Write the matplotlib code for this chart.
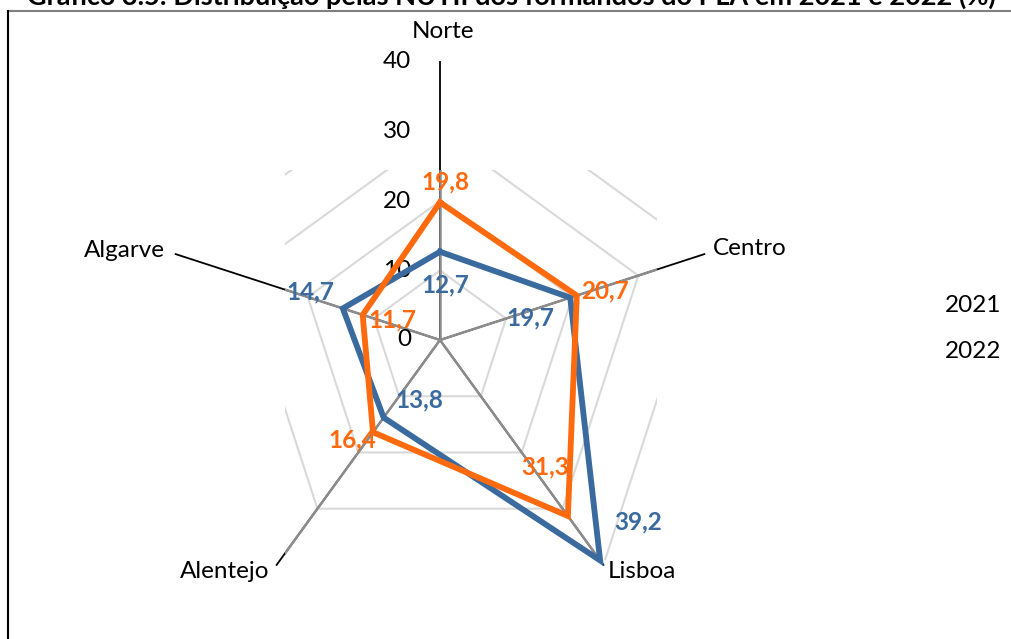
import numpy as np
import matplotlib
matplotlib.use("Agg")
import matplotlib.pyplot as plt
from matplotlib.transforms import Bbox
from matplotlib.lines import Line2D

plt.rcParams['font.family'] = ['Lato', 'DejaVu Sans']

# ---- data ----
categories = ["Norte", "Centro", "Lisboa", "Alentejo", "Algarve"]
series_names = ["2021", "2022"]
values_2021 = [12.7, 19.7, 39.2, 13.8, 14.7]
values_2022 = [19.8, 20.7, 31.3, 16.4, 11.7]
radial_ticks = [0, 10, 20, 30, 40]
title = "Gráfico 3.5: Distribuição pelas NUTII dos formandos do PLA em 2021 e 2022 (%)"

# ---- style ----
W, H = 1011, 639
BLUE = "#3A6A9E"
ORANGE = "#FF6A0E"
GRID = "#d9d9d9"
SPOKE = "#8c8c8c"
FS = 17.5

fig = plt.figure(figsize=(W / 100, H / 100), dpi=100)
cx, cy, R = 440, 340, 278
ax = fig.add_axes([(cx - R) / W, (H - cy - R) / H, 2 * R / W, 2 * R / H], projection='polar')
ax.set_theta_zero_location('N')
ax.set_theta_direction(-1)
ax.set_ylim(0, 40)
ax.set_axis_off()

n = len(categories)
theta = np.linspace(0, 2 * np.pi, n, endpoint=False)
theta_c = np.append(theta, theta[0])

# clip region of the inner chart (display pixels)
clip = Bbox.from_extents(285, H - 560, 657, H - 170)

# grid rings
for r in radial_ticks[1:]:
    ln, = ax.plot(theta_c, [r] * (n + 1), color=GRID, lw=1.5, zorder=1)
    ln.set_clip_box(clip)

# spokes: black outside, gray inside
for t in theta:
    ax.plot([t, t], [0, 40], color="black", lw=1.3, zorder=2, clip_on=False)
    ln, = ax.plot([t, t], [0, 40], color=SPOKE, lw=1.8, zorder=2.5)
    ln.set_clip_box(clip)

# series
v21 = np.append(values_2021, values_2021[0])
v22 = np.append(values_2022, values_2022[0])
ax.plot(theta_c, v21, color=BLUE, lw=4.2, zorder=4, solid_joinstyle='miter', clip_on=False)
ax.plot(theta_c, v22, color=ORANGE, lw=4.2, zorder=5, solid_joinstyle='miter', clip_on=False)

# radial tick labels
for r in radial_ticks:
    ax.annotate(str(r), xy=(0, r), xytext=(-29, 0), textcoords='offset pixels',
                ha='right', va='center', fontsize=FS, color='black',
                annotation_clip=False)

# category labels
cat_off = [(3, 30, 'center'), (8, 6, 'left'), (4, -7, 'left'), (-7, -7, 'right'), (-11, 4, 'right')]
for t, name, (dx, dy, ha) in zip(theta, categories, cat_off):
    ax.annotate(name, xy=(t, 40), xytext=(dx, dy), textcoords='offset pixels',
                ha=ha, va='center', fontsize=FS, color='black', annotation_clip=False)

# data labels
off21 = [(5, -33), (-40, -20), (38, 38), (36, 18), (-33, 17)]
off22 = [(5, 20), (28, 5), (-23, 49), (-21, -8), (30, -5)]
for vals, offs, col in ((values_2021, off21, BLUE), (values_2022, off22, ORANGE)):
    for t, v, (dx, dy) in zip(theta, vals, offs):
        ax.annotate(f"{v:.1f}".replace('.', ','), xy=(t, v), xytext=(dx, dy),
                    textcoords='offset pixels', ha='center', va='center',
                    fontsize=FS, fontweight='bold', color=col,
                    annotation_clip=False, zorder=6)

# legend (text only)
for i, name in enumerate(series_names):
    fig.text(945 / W, 1 - (305 + 47 * i) / H, name, ha='left', va='center', fontsize=FS)

# title (cut off at the top, as in the source)
fig.text(511 / W, 1 - 5 / H, title, ha='center', va='baseline', fontsize=19.5, fontweight='bold')

# frame lines
fig.add_artist(Line2D([8 / W, 1], [1 - 11 / H, 1 - 11 / H], color="#7f7f7f", lw=1.5))
fig.add_artist(Line2D([8 / W, 8 / W], [1 - 11 / H, 0], color="black", lw=1.5))

fig.savefig("out.png", dpi=100)
